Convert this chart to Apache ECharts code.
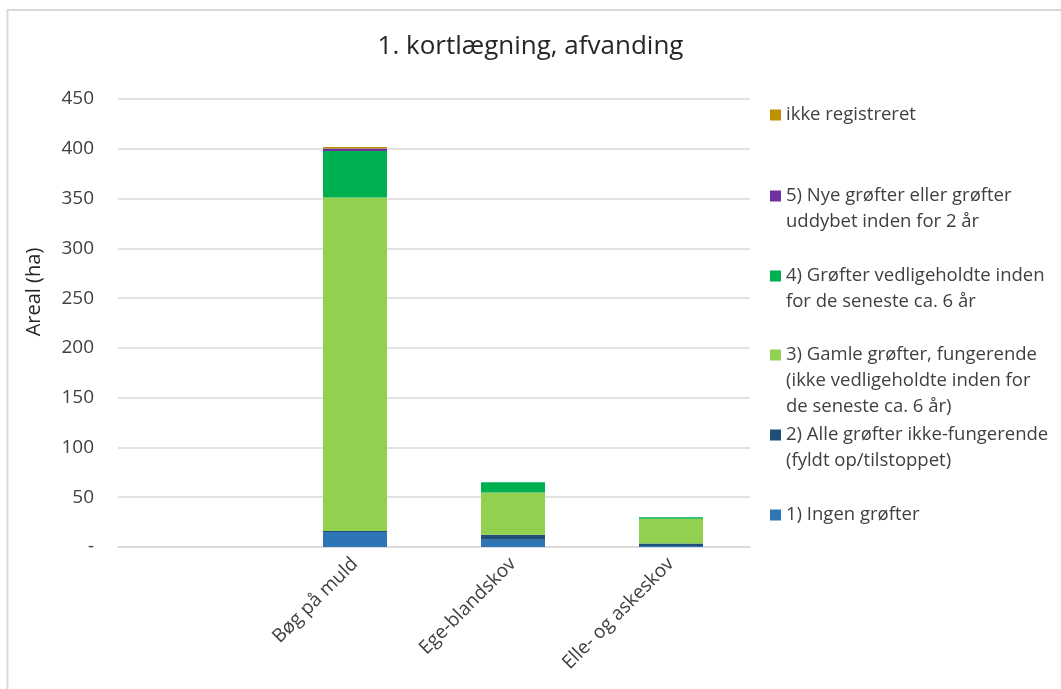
<!DOCTYPE html>
<html>
<head>
<meta charset="utf-8">
<title>1. kortlægning, afvanding</title>
<script src="https://cdn.jsdelivr.net/npm/echarts@6/dist/echarts.min.js"></script>
<style>
    html, body { margin: 0; padding: 0; background: #fff; }
    #chart { width: 1061px; height: 689px; }
</style>
</head>
<body>
<div id="chart"></div>
<script>
// kategorier (første er tom i originalen)
const categories = ['', 'Bøg på muld', 'Ege-blandskov', 'Elle- og askeskov'];

// arealer i ha
const ingenGrofter = [null, 15, 7.4, 1];
const alleIkkeFungerende = [null, 1, 5, 2.5];
const gamleFungerende = [null, 335, 42.3, 25];
const vedligeholdte = [null, 46.7, 10.3, 1.3];
const nyeGrofter = [null, 2.7, 0, 0];
const ikkeRegistreret = [null, 1.3, 0, 0];

const yTicks = [0, 50, 100, 150, 200, 250, 300, 350, 400, 450];

const font = '"Open Sans", "Noto Sans", sans-serif';

// navn, tekst i legend (linjeskift som i originalen), farve, data, legend-midte (y)
const seriesDefs = [
    ['1) Ingen grøfter', ['1) Ingen grøfter'], '#2e75b6', ingenGrofter, 515],
    ['2) Alle grøfter ikke-fungerende (fyldt op/tilstoppet)', ['2) Alle grøfter ikke-fungerende', '(fyldt op/tilstoppet)'], '#1f4e79', alleIkkeFungerende, 435],
    ['3) Gamle grøfter, fungerende (ikke vedligeholdte inden for de seneste ca. 6 år)', ['3) Gamle grøfter, fungerende', '(ikke vedligeholdte inden for', 'de seneste ca. 6 år)'], '#92d050', gamleFungerende, 355],
    ['4) Grøfter vedligeholdte inden for de seneste ca. 6 år', ['4) Grøfter vedligeholdte inden', 'for de seneste ca. 6 år'], '#00b050', vedligeholdte, 276],
    ['5) Nye grøfter eller grøfter uddybet inden for 2 år', ['5) Nye grøfter eller grøfter', 'uddybet inden for 2 år'], '#7030a0', nyeGrofter, 196],
    ['ikke registreret', ['ikke registreret'], '#bf9000', ikkeRegistreret, 115]
];

const lineH = 26;

const legends = seriesDefs.map(function (d) {
    const n = d[1].length;
    // tomme linjer foran, så ikonet står ud for første linje
    const pad = new Array(n - 1).fill('');
    const text = pad.concat(d[1]).join('\n');
    return {
        orient: 'vertical',
        left: 770,
        top: d[4] - (2 * n - 1) * lineH / 2,
        padding: 0,
        itemWidth: 11,
        itemHeight: 11,
        icon: 'rect',
        data: [d[0]],
        formatter: function () { return text; },
        textStyle: {
            fontFamily: font,
            fontSize: 18.5,
            color: '#404040',
            lineHeight: lineH
        }
    };
});

const series = seriesDefs.map(function (d) {
    return {
        name: d[0],
        type: 'bar',
        stack: 'areal',
        barWidth: 64,
        itemStyle: { color: d[2] },
        data: d[3]
    };
});

const chart = echarts.init(document.getElementById('chart'));
chart.setOption({
    animation: false,
    backgroundColor: '#fff',
    title: {
        text: '1. kortlægning, afvanding',
        left: 'center',
        top: 29,
        textStyle: {
            fontFamily: font,
            fontSize: 26,
            fontWeight: 'normal',
            color: '#262626'
        }
    },
    graphic: [{
        type: 'rect',
        shape: { x: 7.5, y: 10, width: 1100, height: 700 },
        style: { fill: 'none', stroke: '#d9d9d9', lineWidth: 2 },
        silent: true
    }],
    legend: legends,
    grid: {
        left: 118,
        right: 311,
        top: 99,
        bottom: 142
    },
    xAxis: {
        type: 'category',
        data: categories,
        axisLine: { lineStyle: { color: '#d9d9d9', width: 1.5 } },
        axisTick: { show: false },
        axisLabel: {
            rotate: 45,
            interval: 0,
            margin: 14,
            fontFamily: font,
            fontSize: 19,
            color: '#404040'
        }
    },
    yAxis: {
        type: 'value',
        min: 0,
        max: 450,
        interval: 50,
        name: 'Areal (ha)',
        nameLocation: 'middle',
        nameGap: 74,
        nameTextStyle: {
            fontFamily: font,
            fontSize: 20,
            color: '#262626',
            padding: [0, 0, 0, 62]
        },
        axisLine: { show: false },
        axisTick: { show: false },
        splitLine: { lineStyle: { color: '#d9d9d9', width: 1.5 } },
        axisLabel: {
            margin: 24,
            fontFamily: font,
            fontSize: 19,
            color: '#404040',
            formatter: function (v) {
                return yTicks.indexOf(v) === 0 ? '-' : String(v);
            }
        }
    },
    series: series
});

window.addEventListener('resize', function () {
    chart.resize();
});
</script>
</body>
</html>
